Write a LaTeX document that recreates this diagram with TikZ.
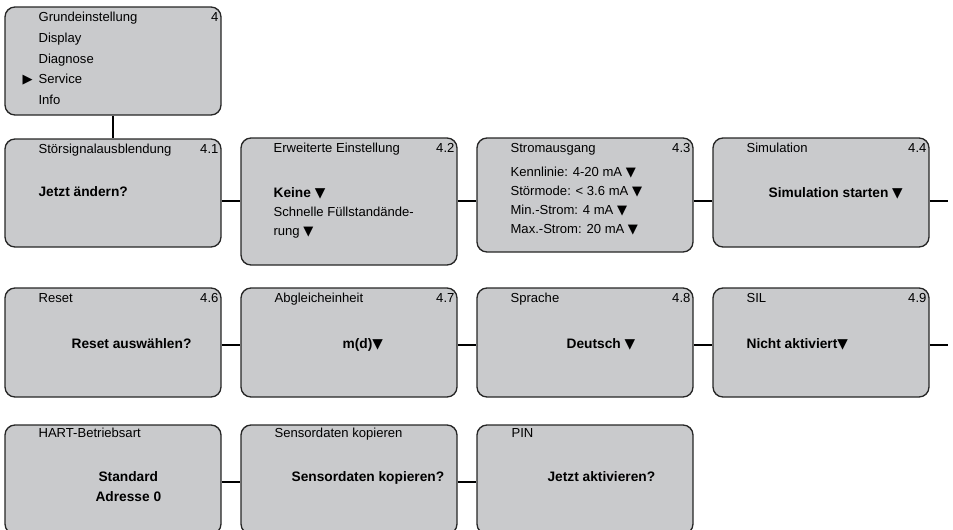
\documentclass[tikz,border=0pt]{standalone}
\usepackage{fontspec}
\setmainfont{Liberation Sans}
\newfontfamily\zeichen{DejaVu Sans}
\usepackage{tikz}

\definecolor{menugrau}{HTML}{C9CACC}

\begin{document}
\begin{tikzpicture}[
            x = 0.75pt, y = -0.75pt,
            menu/.style = {
                draw = black!85, fill = menugrau,
                line width = 1pt,
                rounded corners = 7.5pt,
                minimum width = 162pt,
                minimum height = 81.75pt,
                inner sep = 0pt,
            },
            titel/.style = {
                anchor = base west, inner sep = 0pt,
                font = \fontsize{9.8}{12}\selectfont,
            },
            nummer/.style = {titel, anchor = base east},
            wert/.style = {titel, font = \fontsize{10.3}{12}\selectfont\bfseries},
            verbindung/.style = {line width = 1.5pt, black},
        ]
        \useasboundingbox (0,0) rectangle (953,529);

        % Menues
        \node[menu, minimum height = 81pt] (m4) at (113,61) {};
        \node[menu, minimum height = 81pt] (m41) at (113,193) {};
        \node[menu, minimum height = 95.25pt] (m42) at (349,201.5) {};
        \node[menu, minimum height = 85.5pt] (m43) at (585,195) {};
        \node[menu] (m44) at (821,192.5) {};
        \node[menu] (m46) at (113,342.5) {};
        \node[menu] (m47) at (349,342.5) {};
        \node[menu] (m48) at (585,342.5) {};
        \node[menu] (m49) at (821,342.5) {};
        \node[menu] (hart) at (113,479.5) {};
        \node[menu] (sensor) at (349,479.5) {};
        \node[menu] (pin) at (585,479.5) {};

        % Texte
        \node[titel] (t4) at ([shift={(34,15)}]m4.north west) {Grundeinstellung};
        \node[nummer] (n4) at ([shift={(-3,15)}]m4.north east) {4};
        \node[titel] (display) at ([shift={(34,36)}]m4.north west) {Display};
        \node[titel] (diagnose) at ([shift={(34,57)}]m4.north west) {Diagnose};
        \node[titel] (service) at ([shift={(34,77)}]m4.north west) {Service};
        \node[titel] (zeiger) at ([shift={(18,77)}]m4.north west) {\zeichen ▶};
        \node[titel] (info) at ([shift={(34,98)}]m4.north west) {Info};

        \node[titel] (t41) at ([shift={(34,15)}]m41.north west) {Störsignalausblendung};
        \node[nummer] (n41) at ([shift={(-3,15)}]m41.north east) {4.1};
        \node[wert] (w41) at ([shift={(34,58)}]m41.north west) {Jetzt ändern?};

        \node[titel] (t42) at ([shift={(33,15)}]m42.north west) {Erweiterte Einstellung};
        \node[nummer] (n42) at ([shift={(-3,15)}]m42.north east) {4.2};
        \node[wert] (w42) at ([shift={(33,60)}]m42.north west) {Keine {\zeichen ▼}};
        \node[titel] (w42b) at ([shift={(33,79)}]m42.north west) {Schnelle Füllstandände-};
        \node[titel] (w42c) at ([shift={(33,98)}]m42.north west) {rung {\zeichen ▼}};

        \node[titel] (t43) at ([shift={(34,15)}]m43.north west) {Stromausgang};
        \node[nummer] (n43) at ([shift={(-3,15)}]m43.north east) {4.3};
        \node[titel] (w43a) at ([shift={(34,39)}]m43.north west) {Kennlinie: 4-20 mA {\zeichen ▼}};
        \node[titel] (w43b) at ([shift={(34,58)}]m43.north west) {Störmode: < 3.6 mA {\zeichen ▼}};
        \node[titel] (w43c) at ([shift={(34,77)}]m43.north west) {Min.-Strom: 4 mA {\zeichen ▼}};
        \node[titel] (w43d) at ([shift={(34,96)}]m43.north west) {Max.-Strom: 20 mA {\zeichen ▼}};

        \node[titel] (t44) at ([shift={(34,15)}]m44.north west) {Simulation};
        \node[nummer] (n44) at ([shift={(-3,15)}]m44.north east) {4.4};
        \node[wert] (w44) at ([shift={(56,60)}]m44.north west) {Simulation starten {\zeichen ▼}};

        \node[titel] (t46) at ([shift={(34,15)}]m46.north west) {Reset};
        \node[nummer] (n46) at ([shift={(-3,15)}]m46.north east) {4.6};
        \node[wert] (w46) at ([shift={(67,61)}]m46.north west) {Reset auswählen?};

        \node[titel] (t47) at ([shift={(34,15)}]m47.north west) {Abgleicheinheit};
        \node[nummer] (n47) at ([shift={(-3,15)}]m47.north east) {4.7};
        \node[wert] (w47) at ([shift={(102,61)}]m47.north west) {m(d){\zeichen ▼}};

        \node[titel] (t48) at ([shift={(34,15)}]m48.north west) {Sprache};
        \node[nummer] (n48) at ([shift={(-3,15)}]m48.north east) {4.8};
        \node[wert] (w48) at ([shift={(90,61)}]m48.north west) {Deutsch {\zeichen ▼}};

        \node[titel] (t49) at ([shift={(34,15)}]m49.north west) {SIL};
        \node[nummer] (n49) at ([shift={(-3,15)}]m49.north east) {4.9};
        \node[wert] (w49) at ([shift={(34,61)}]m49.north west) {Nicht aktiviert{\zeichen ▼}};

        \node[titel] (thart) at ([shift={(34,13)}]hart.north west) {HART-Betriebsart};
        \node[wert, anchor = base] (whart) at ([shift={(124,57)}]hart.north west) {Standard};
        \node[wert, anchor = base] (whartb) at ([shift={(124,77)}]hart.north west) {Adresse 0};

        \node[titel] (tsensor) at ([shift={(34,13)}]sensor.north west) {Sensordaten kopieren};
        \node[wert] (wsensor) at ([shift={(51,57)}]sensor.north west) {Sensordaten kopieren?};

        \node[titel] (tpin) at ([shift={(35,13)}]pin.north west) {PIN};
        \node[wert] (wpin) at ([shift={(71,57)}]pin.north west) {Jetzt aktivieren?};

        % Verbindungen
        \coordinate (z1) at (0,201);
        \coordinate (z2) at (0,345);
        \coordinate (z3) at (0,482);
        \coordinate (ende1) at (948,201);
        \coordinate (ende2) at (948,345);

        \path[verbindung]
            (m4.south) edge (m41.north)
            (m41.east |- z1) edge (m42.west |- z1)
            (m42.east |- z1) edge (m43.west |- z1)
            (m43.east |- z1) edge (m44.west |- z1)
            (m44.east |- z1) edge (ende1);

        \path[verbindung]
            (m46.east |- z2) edge (m47.west |- z2)
            (m47.east |- z2) edge (m48.west |- z2)
            (m48.east |- z2) edge (m49.west |- z2)
            (m49.east |- z2) edge (ende2);

        \path[verbindung]
            (hart.east |- z3) edge (sensor.west |- z3)
            (sensor.east |- z3) edge (pin.west |- z3);
    \end{tikzpicture}
\end{document}
